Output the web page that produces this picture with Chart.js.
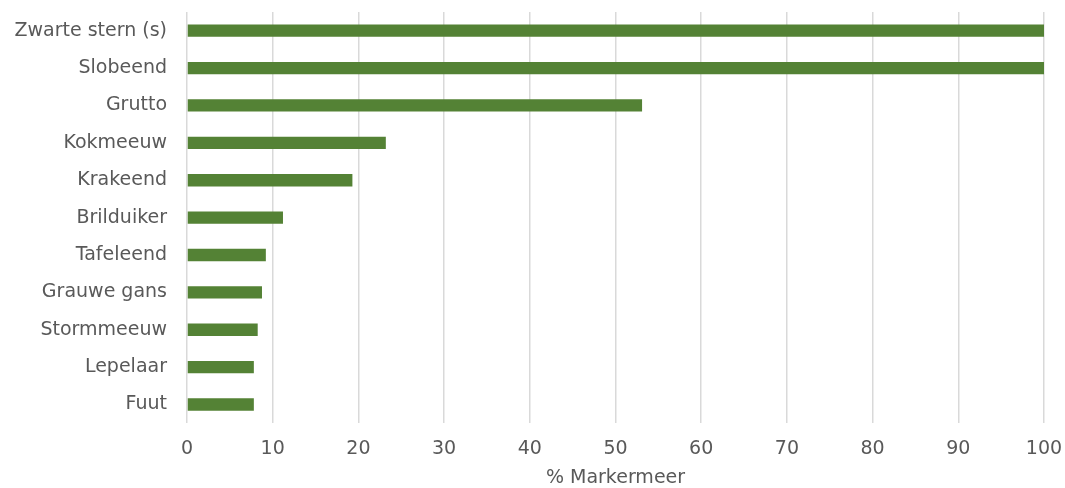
<!DOCTYPE html>
<html>
<head>
<meta charset="utf-8">
<script src="https://cdn.jsdelivr.net/npm/chart.js@4/dist/chart.umd.min.js"></script>
<style>
  html, body { margin: 0; padding: 0; background: #fff; }
  #wrap { width: 1065px; height: 488px; }
</style>
</head>
<body>
<div id="wrap"><canvas id="speciesChart"></canvas></div>
<script>
// Species and their share in the Markermeer (%)
const species = ['Zwarte stern (s)', 'Slobeend', 'Grutto', 'Kokmeeuw', 'Krakeend', 'Brilduiker',
  'Tafeleend', 'Grauwe gans', 'Stormmeeuw', 'Lepelaar', 'Fuut'];
const percentages = [100, 100, 53.1, 23.2, 19.3, 11.2, 9.2, 8.75, 8.25, 7.8, 7.8];
const xTicks = [0, 10, 20, 30, 40, 50, 60, 70, 80, 90, 100];

const textColor = '#595959';
const barColor = '#548235';
const gridColor = '#d9d9d9';
const fontFamily = '"DejaVu Sans", sans-serif';

const ctx = document.getElementById('speciesChart').getContext('2d');
new Chart(ctx, {
  type: 'bar',
  data: {
    labels: species,
    datasets: [{
      data: percentages,
      backgroundColor: barColor,
      borderWidth: 0,
      categoryPercentage: 1,
      barPercentage: 0.33
    }]
  },
  options: {
    indexAxis: 'y',
    responsive: true,
    maintainAspectRatio: false,
    animation: false,
    layout: { padding: { top: 12, left: 0, right: 21, bottom: 0 } },
    plugins: {
      legend: { display: false },
      tooltip: { enabled: false }
    },
    scales: {
      x: {
        min: 0,
        max: 100,
        afterBuildTicks: axis => { axis.ticks = xTicks.map(v => ({ value: v })); },
        // invisible tick marks give the gap between plot and labels
        grid: { color: gridColor, lineWidth: 1.5, drawTicks: true, tickLength: 14, tickColor: 'transparent' },
        border: { display: false },
        ticks: { color: textColor, font: { family: fontFamily, size: 19 }, padding: 0 },
        title: {
          display: true,
          text: '% Markermeer',
          color: textColor,
          font: { family: fontFamily, size: 19, lineHeight: 1 },
          padding: { top: 9, bottom: 0 }
        }
      },
      y: {
        grid: { display: false, drawTicks: true, tickLength: 20 },
        border: { display: false },
        ticks: { color: textColor, font: { family: fontFamily, size: 19 }, padding: 0 },
        afterFit: scale => { scale.width = 187; }
      }
    }
  }
});
</script>
</body>
</html>
